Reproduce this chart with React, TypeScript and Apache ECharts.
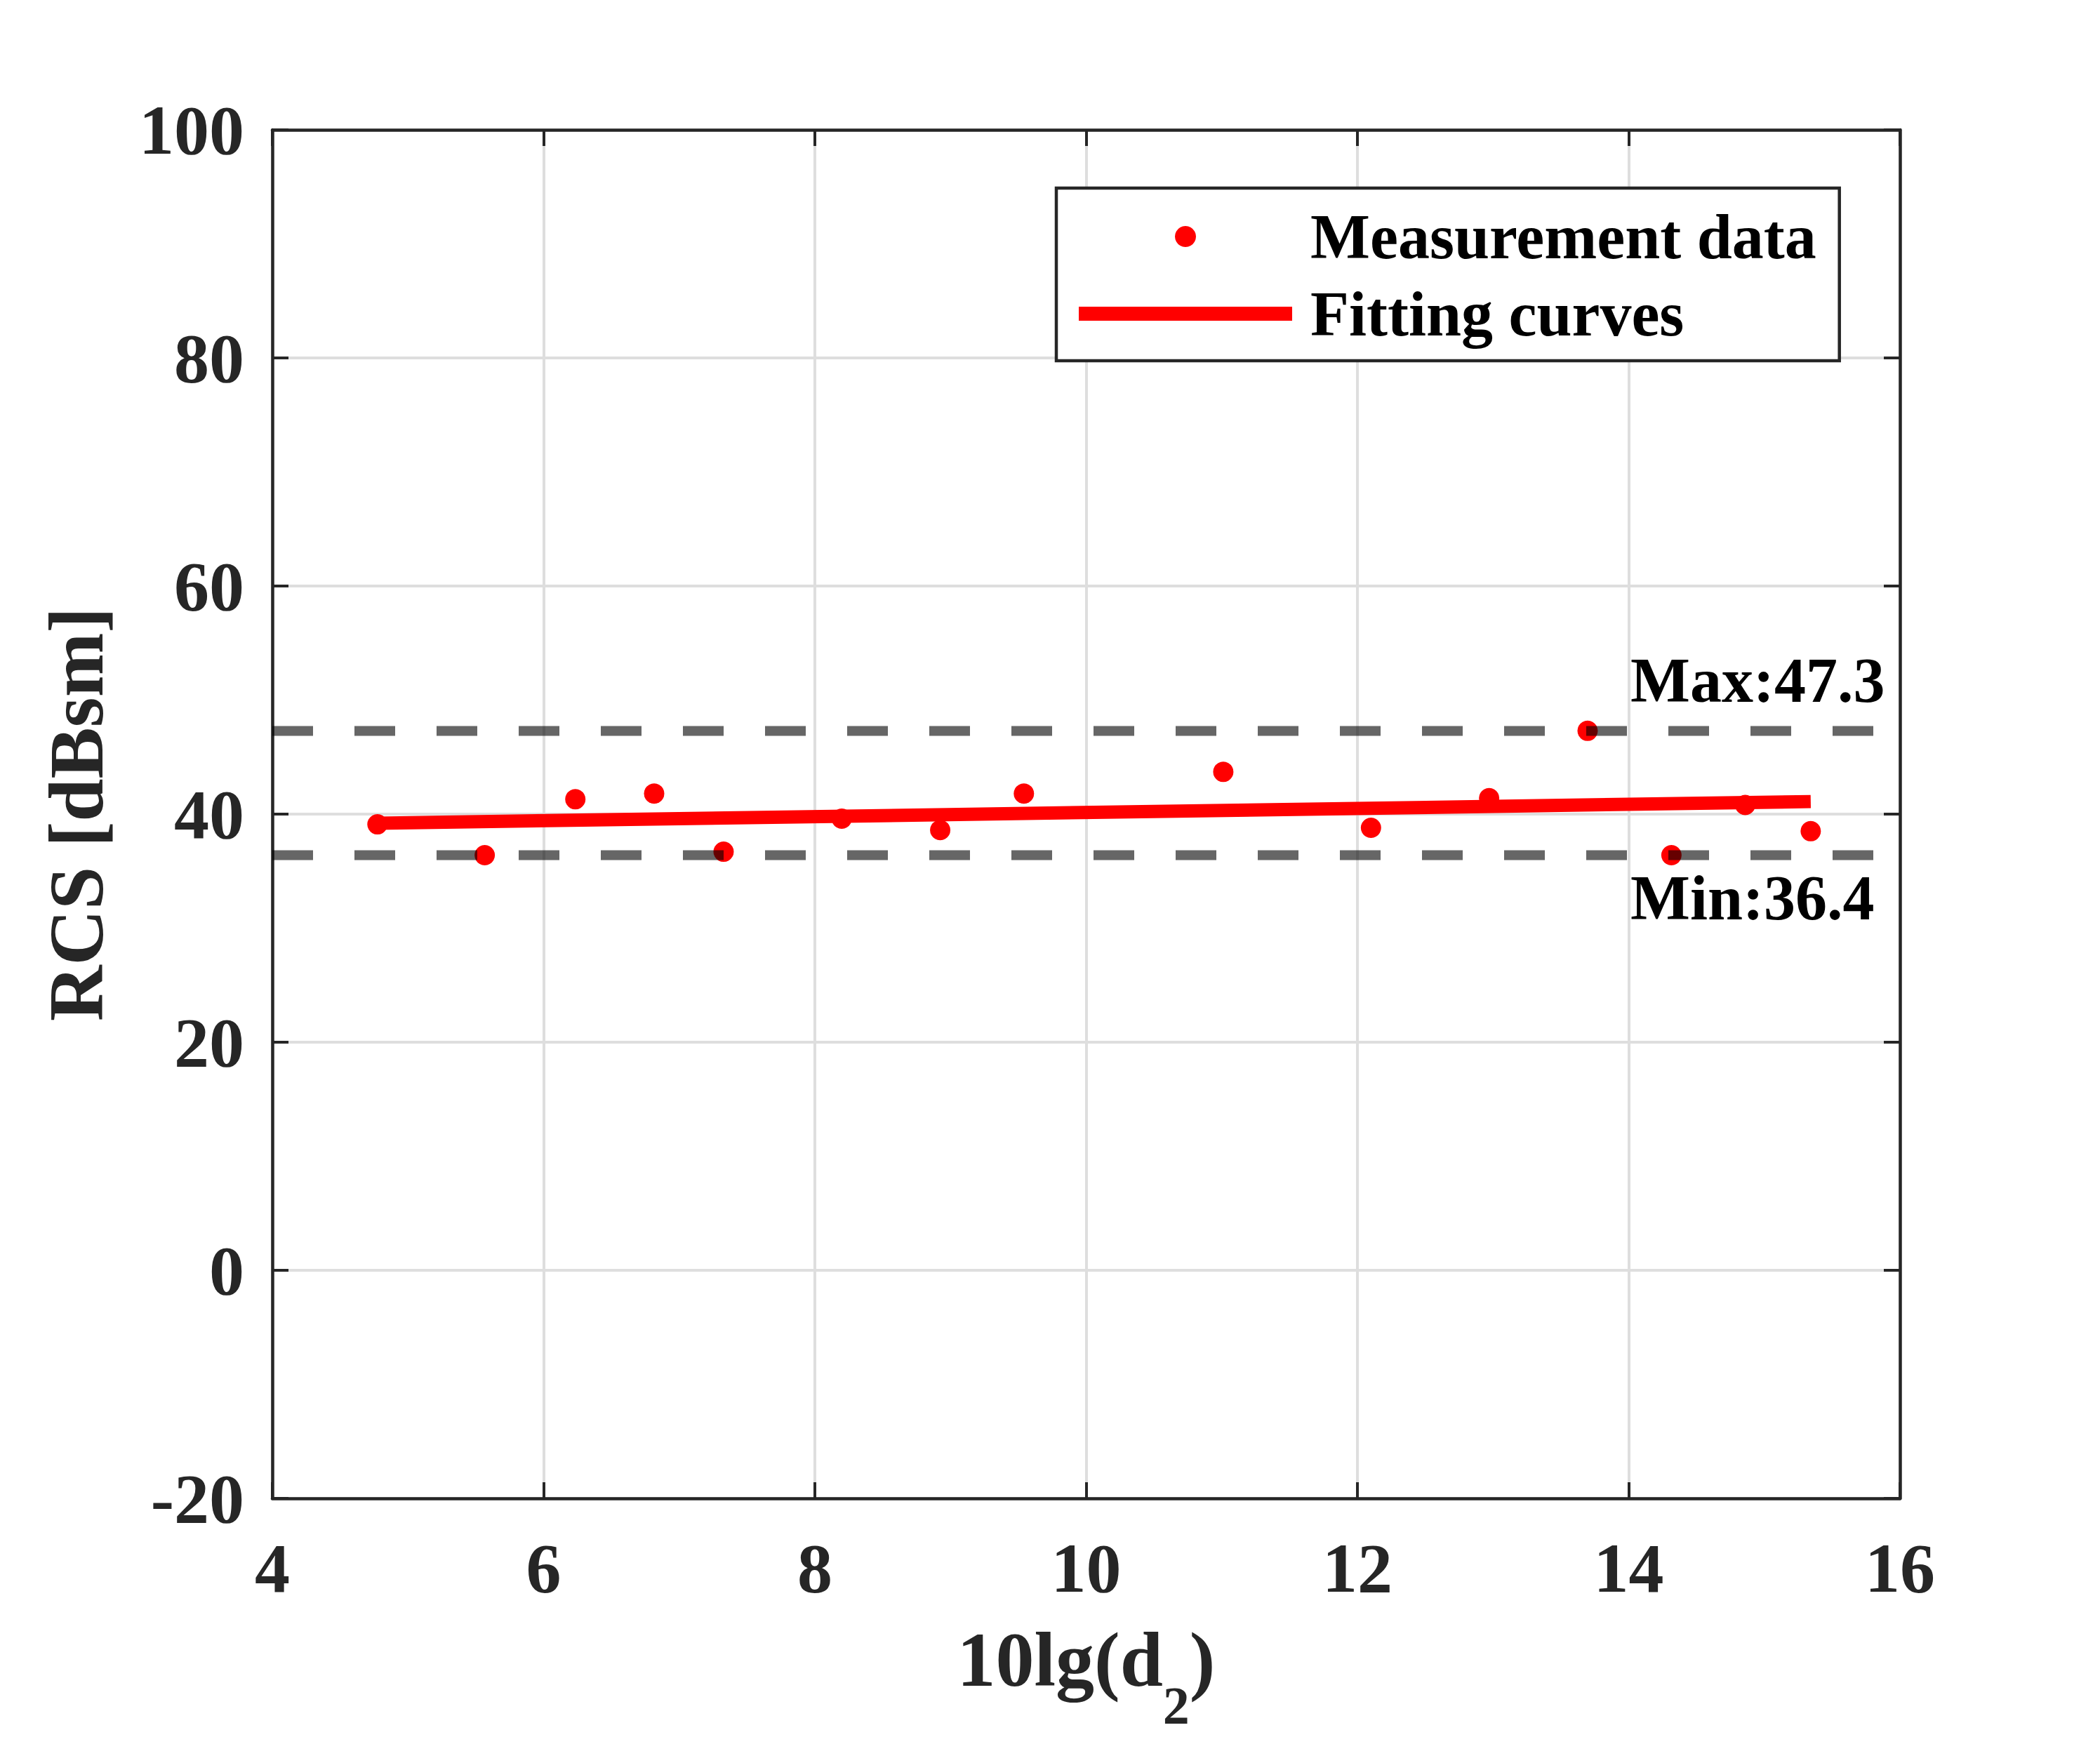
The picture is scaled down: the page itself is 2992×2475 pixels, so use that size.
import React, { useEffect, useRef } from "react";
import * as echarts from "echarts";

// ---- data ----
const X_VALUES = [4.775, 5.566, 6.234, 6.815, 7.327, 8.198, 8.924, 9.541, 11.011, 12.1, 12.971, 13.697, 14.315, 14.859, 15.342];
const RCS_VALUES = [39.1, 36.4, 41.3, 41.8, 36.7, 39.6, 38.6, 41.8, 43.7, 38.8, 41.4, 47.3, 36.4, 40.8, 38.5];
const FIT_X = [4.775, 15.342];
const FIT_Y = [39.2, 41.1];
const MAX_RCS = 47.3;
const MIN_RCS = 36.4;
// annotation anchors (data coordinates)
const MAX_LABEL_AT = [14, 51.7];
const MIN_LABEL_AT = [14, 32.65];

const X_MIN = 4, X_MAX = 16, X_STEP = 2;
const Y_MIN = -20, Y_MAX = 100, Y_STEP = 20;

const SERIES_NAMES = ["Measurement data", "Fitting curves"];
const X_NAME_PARTS = ["10lg(d", "2", ")"];
const Y_NAME = "RCS [dBsm]";

const FONT = '"Liberation Serif", "Times New Roman", serif';
const AXIS_COLOR = "#262626";

export default function App() {
  const ref = useRef<HTMLDivElement>(null);

  useEffect(() => {
    const chart = echarts.init(ref.current!, null, { renderer: "svg", width: 2992, height: 2475 });

    const axisLine = { show: true, onZero: false, lineStyle: { color: AXIS_COLOR, width: 4.5 } };
    const axisTick = { show: true, inside: true, length: 23, lineStyle: { color: AXIS_COLOR, width: 4 } };
    const tickLabel = {
      show: true,
      fontSize: 100,
      fontWeight: "bold",
      fontFamily: FONT,
      color: AXIS_COLOR,
      lineHeight: 100,
    };
    const splitLine = { show: true, lineStyle: { color: "#dedede", width: 4 } };

    chart.setOption({
      animation: false,
      backgroundColor: "#ffffff",
      grid: { left: 388, right: 285, top: 185, bottom: 340, containLabel: false, outerBoundsMode: "none" },
      xAxis: [
        {
          type: "value",
          position: "bottom",
          min: X_MIN,
          max: X_MAX,
          interval: X_STEP,
          name: `{m|${X_NAME_PARTS[0]}}{s|${X_NAME_PARTS[1]}}{m|${X_NAME_PARTS[2]}}`,
          nameLocation: "middle",
          nameGap: 120,
          nameMoveOverlap: false,
          nameTextStyle: {
            rich: {
              m: { fontSize: 110, fontWeight: "bold", fontFamily: FONT, color: AXIS_COLOR, lineHeight: 220 },
              s: { fontSize: 76, fontWeight: "bold", fontFamily: FONT, color: AXIS_COLOR, padding: [130, 0, 0, 0] },
            },
          },
          axisLine,
          axisTick,
          axisLabel: { ...tickLabel, margin: 49 },
          splitLine,
        },
        {
          type: "value",
          position: "top",
          min: X_MIN,
          max: X_MAX,
          interval: X_STEP,
          axisLine,
          axisTick,
          axisLabel: { show: false },
          splitLine: { show: false },
        },
      ],
      yAxis: [
        {
          type: "value",
          position: "left",
          min: Y_MIN,
          max: Y_MAX,
          interval: Y_STEP,
          name: Y_NAME,
          nameLocation: "middle",
          nameGap: 224,
          nameMoveOverlap: false,
          nameTextStyle: { fontSize: 110, fontWeight: "bold", fontFamily: FONT, color: AXIS_COLOR, lineHeight: 110 },
          axisLine,
          axisTick,
          axisLabel: { ...tickLabel, margin: 40 },
          splitLine,
        },
        {
          type: "value",
          position: "right",
          min: Y_MIN,
          max: Y_MAX,
          interval: Y_STEP,
          axisLine,
          axisTick,
          axisLabel: { show: false },
          splitLine: { show: false },
        },
      ],
      legend: {
        data: [
          { name: SERIES_NAMES[0], icon: "circle" },
          { name: SERIES_NAMES[1], icon: "path://M0,0H304V20H0Z" },
        ],
        orient: "vertical",
        left: 1505,
        top: 268,
        itemWidth: 304,
        itemHeight: 30,
        itemGap: 20,
        padding: [24, 33, 22, 32],
        borderColor: AXIS_COLOR,
        borderWidth: 4.5,
        backgroundColor: "#ffffff",
        selectedMode: false,
        itemStyle: { borderWidth: 0, opacity: 1 },
        textStyle: {
          fontSize: 90,
          fontWeight: "bold",
          fontFamily: FONT,
          color: "#000000",
          lineHeight: 90,
          padding: [0, 0, 0, 21],
        },
      },
      series: [
        {
          name: SERIES_NAMES[0],
          type: "scatter",
          data: X_VALUES.map((x, i) => [x, RCS_VALUES[i]]),
          symbol: "circle",
          symbolSize: 29,
          itemStyle: { color: "#ff0000", opacity: 1 },
          z: 2,
          silent: true,
        },
        {
          name: SERIES_NAMES[1],
          type: "line",
          data: FIT_X.map((x, i) => [x, FIT_Y[i]]),
          symbol: "none",
          showSymbol: false,
          lineStyle: { color: "#ff0000", width: 19, cap: "butt" },
          itemStyle: { color: "#ff0000" },
          z: 3,
          silent: true,
        },
        {
          name: "Max line",
          type: "line",
          data: [[X_MIN, MAX_RCS], [X_MAX, MAX_RCS]],
          symbol: "none",
          lineStyle: { color: "rgba(0,0,0,0.6)", width: 14, type: [58, 59] },
          z: 4,
          silent: true,
        },
        {
          name: "Min line",
          type: "line",
          data: [[X_MIN, MIN_RCS], [X_MAX, MIN_RCS]],
          symbol: "none",
          lineStyle: { color: "rgba(0,0,0,0.6)", width: 14, type: [58, 59] },
          z: 4,
          silent: true,
        },
        {
          name: "Annotations",
          type: "scatter",
          data: [
            { value: MAX_LABEL_AT, label: { formatter: `Max:${MAX_RCS}` } },
            { value: MIN_LABEL_AT, label: { formatter: `Min:${MIN_RCS}` } },
          ],
          symbolSize: 1,
          itemStyle: { color: "rgba(0,0,0,0)", opacity: 1 },
          label: {
            show: true,
            position: "right",
            distance: 2,
            fontSize: 90,
            fontWeight: "bold",
            fontFamily: FONT,
            color: "#000000",
            opacity: 1,
            lineHeight: 90,
          },
          z: 5,
          silent: true,
        },
      ],
    });

    return () => chart.dispose();
  }, []);

  return (
    <div
      ref={ref}
      style={{ position: "fixed", left: 0, top: 0, width: 2992, height: 2475, background: "#ffffff" }}
    />
  );
}
